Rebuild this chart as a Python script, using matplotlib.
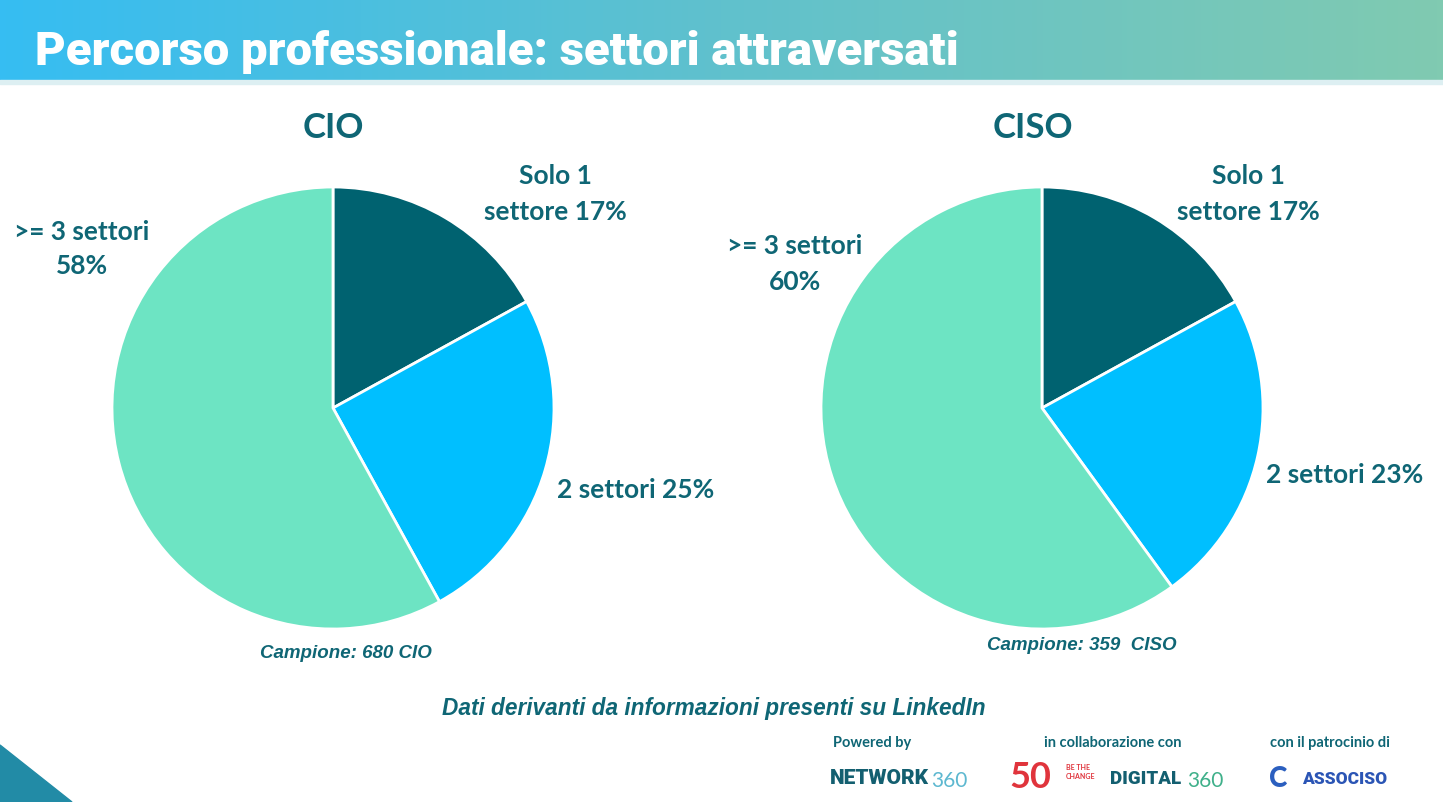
import matplotlib.pyplot as plt
import numpy as np
from matplotlib.colors import LinearSegmentedColormap
from matplotlib.patches import Polygon

# data
categories = ['Solo 1 settore', '2 settori', '>= 3 settori']
cio_values = [17, 25, 58]
ciso_values = [17, 23, 60]
cio_labels = ['Solo 1\nsettore 17%', '2 settori 25%', '>= 3 settori\n58%']
ciso_labels = ['Solo 1\nsettore 17%', '2 settori 23%', '>= 3 settori\n60%']
cio_sample = 'Campione: 680 CIO'
ciso_sample = 'Campione: 359  CISO'

colors = ['#006270', '#00BFFF', '#6DE4C3']
text_col = '#0F6675'
W, H = 1443, 802

plt.rcParams['font.family'] = ['Lato', 'DejaVu Sans']

fig = plt.figure(figsize=(W / 100, H / 100), dpi=100)
bg = fig.add_axes([0, 0, 1, 1])
bg.set_xlim(0, W)
bg.set_ylim(H, 0)
bg.axis('off')

# header band with gradient
cmap = LinearSegmentedColormap.from_list('hdr', ['#36BDF2', '#60C1CD', '#80CAB1'])
grad = np.linspace(0, 1, 256).reshape(1, -1)
bg.imshow(grad, cmap=cmap, extent=[0, W, 80, 0], aspect='auto')
bg.fill_between([0, W], 80, 84, color='#DDEFF2')
bg.text(35, 52, 'Percorso professionale: settori attraversati', color='white',
        fontsize=34, fontweight='heavy', family=['Roboto', 'DejaVu Sans'],
        va='center', ha='left')

# bottom-left triangle
bg.add_patch(Polygon([[0, 745], [72, 802], [0, 802]], closed=True, color='#228BA6'))


def pie_axes(cx, cy, r):
    return fig.add_axes([(cx - r) / W, (H - cy - r) / H, 2 * r / W, 2 * r / H])


def draw_pie(ax, values):
    ax.pie(values, colors=colors, startangle=90, counterclock=False,
           wedgeprops=dict(edgecolor='white', linewidth=2))
    ax.set_xlim(-1, 1)
    ax.set_ylim(-1, 1)
    ax.axis('off')


ax1 = pie_axes(333, 408, 221)
draw_pie(ax1, cio_values)
ax2 = pie_axes(1042, 408, 221)
draw_pie(ax2, ciso_values)

lab = dict(color=text_col, fontsize=19, fontweight='bold', ha='center', va='center',
           linespacing=1.55)
note = dict(color=text_col, fontsize=13.5, fontweight='bold', style='italic',
            ha='center', va='center', family=['Liberation Sans', 'DejaVu Sans'])
# CIO
bg.text(333, 128, 'CIO', color=text_col, fontsize=25, fontweight='bold', ha='center', va='center')
bg.text(555, 194, cio_labels[0], **lab)
bg.text(636, 490, cio_labels[1], **lab)
bg.text(82, 249, cio_labels[2], **lab)
bg.text(346, 653, cio_sample, **note)
# CISO
bg.text(1033, 128, 'CISO', color=text_col, fontsize=25, fontweight='bold', ha='center', va='center')
bg.text(1248, 194, ciso_labels[0], **lab)
bg.text(1345, 475, ciso_labels[1], **lab)
bg.text(795, 264, ciso_labels[2], **lab)
bg.text(1082, 646, ciso_sample, **note)

bg.text(714, 709, 'Dati derivanti da informazioni presenti su LinkedIn', color=text_col,
        fontsize=16.3, fontweight='bold', style='italic', ha='center', va='center',
        family=['Liberation Sans', 'DejaVu Sans'])

# footer
foot = dict(color=text_col, fontsize=10.5, fontweight='bold', ha='center', va='center')
bg.text(872, 743, 'Powered by', **foot)
bg.text(1113, 743, 'in collaborazione con', **foot)
bg.text(1330, 743, 'con il patrocinio di', **foot)

bg.text(830, 779, 'NETWORK', color='#135F70', fontsize=15, fontweight='black',
        ha='left', va='center', family=['Roboto', 'DejaVu Sans'])
bg.text(931, 781, '360', color='#5DB8D0', fontsize=15, ha='left', va='center')
bg.text(1030, 778, '50', color='#E0343C', fontsize=26, fontweight='bold',
        ha='center', va='center')
bg.text(1066, 772, 'BE THE\nCHANGE', color='#E0343C', fontsize=5, fontweight='bold',
        ha='left', va='center')
bg.text(1110, 779, 'DIGITAL', color='#135F70', fontsize=13.5, fontweight='black',
        ha='left', va='center', family=['Roboto', 'DejaVu Sans'])
bg.text(1187, 781, '360', color='#3FB08A', fontsize=15, ha='left', va='center')
bg.text(1278, 779, 'C', color='#2B5FBF', fontsize=20, fontweight='black',
        ha='center', va='center')
bg.text(1302, 779, 'ASSOCISO', color='#2B55B5', fontsize=12.5, fontweight='black',
        ha='left', va='center', family=['Roboto', 'DejaVu Sans'])

fig.savefig('out.png', dpi=100)
